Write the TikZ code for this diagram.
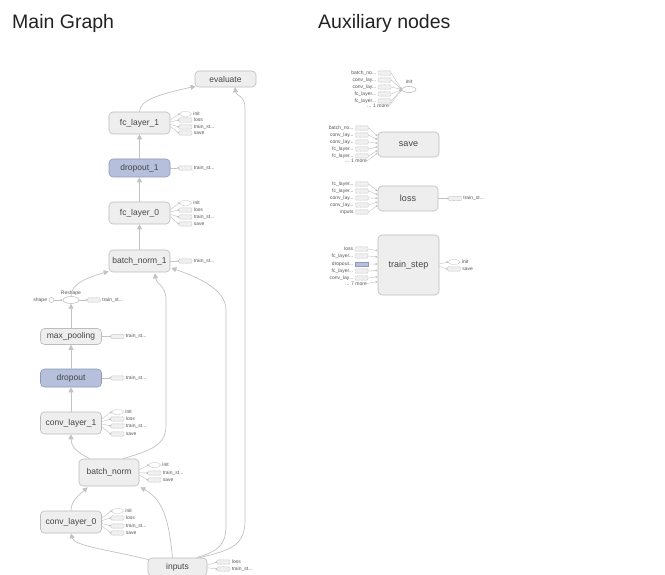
\documentclass[tikz,border=0pt]{standalone}
\usepackage{fontspec}
\setmainfont{Liberation Sans}
\usetikzlibrary{arrows.meta,shapes.geometric,calc}
\definecolor{nfill}{HTML}{EEEEEE}
\definecolor{ndraw}{HTML}{BDBDBD}
\definecolor{bfill}{HTML}{B6C0DC}
\definecolor{bdraw}{HTML}{8E99BC}
\definecolor{ntext}{HTML}{444444}
\definecolor{egray}{HTML}{C2C2C2}
\definecolor{sfill}{HTML}{F0F0F0}
\definecolor{sdraw}{HTML}{BBBBBB}
\definecolor{ltext}{HTML}{555555}
\definecolor{ttext}{HTML}{222222}
\newcommand\trunc{...}
\tikzset{
  mnode/.style={draw=ndraw, fill=nfill, rounded corners=4pt, inner sep=0pt,
    minimum width=61pt, minimum height=22pt, text=ntext, line width=0.6pt,
    font=\fontsize{8.5}{9}\selectfont},
  bnode/.style={mnode, fill=bfill, draw=bdraw},
  anode/.style={mnode, font=\fontsize{9}{10}\selectfont},
  conn/.style={draw=egray, line width=0.7pt, -{Triangle[length=5pt,width=5pt]}},
  sedge/.style={draw=egray, line width=0.4pt, -{Triangle[length=2pt,width=2pt]}},
  redge/.style={draw=egray, line width=0.4pt, -{Triangle[length=2pt,width=2pt,reversed]}},
  stubr/.style={draw=sdraw, fill=sfill, dash pattern=on 0.8pt off 0.5pt, line width=0.4pt,
    rounded corners=1pt, minimum width=13pt, minimum height=4.2pt, inner sep=0pt},
  stubi/.style={ellipse, draw=sdraw, fill=white, dash pattern=on 0.8pt off 0.5pt, line width=0.4pt,
    minimum width=12pt, minimum height=5pt, inner sep=0pt},
  stubb/.style={draw=bdraw, fill=bfill, line width=0.4pt, minimum width=13pt,
    minimum height=4.2pt, inner sep=0pt},
  slab/.style={font=\fontsize{5}{5}\selectfont, text=ltext, inner sep=0pt, anchor=west},
  title/.style={font=\fontsize{19.5}{22}\selectfont, text=ttext, inner sep=0pt, anchor=base west},
}
% stubs to the right of a node (outputs)
\newcommand\outstubs[3]{%
  \foreach \sY/\sT/\sK [count=\sN] in {#3}{%
    \node[stub\sK] (#1s\sN) at (#2,\sY) {};
    \node[slab] (#1l\sN) at ([xshift=1.5pt]#1s\sN.east) {\sT};
    \draw[redge] ($(#1.east)!0.35!(#1.east |- #1s\sN.west)$) -- (#1s\sN.west);
  }}
% stubs to the left of a node (inputs)
\newcommand\instubs[4]{%
  \foreach \sY/\sT/\sK [count=\sN] in {#3}{%
    \node[stub\sK] (#1s\sN) at (#2,\sY) {};
    \node[slab, anchor=east] (#1l\sN) at ([xshift=-1.5pt]#1s\sN.west) {\sT};
    \draw[sedge] (#1s\sN.east) -- ($(#1.west)!#4!(#1.west |- #1s\sN.east)$);
  }}
\begin{document}
\begin{tikzpicture}[x=1pt,y=-1pt]
\useasboundingbox (0,0) rectangle (665,575);
\fill[white] (0,0) rectangle (665,575);

% titles
\node[title] (t1) at (12,29) {Main Graph};
\node[title] (t2) at (318,29) {Auxiliary nodes};

% ---------- main graph nodes ----------
\node[mnode, minimum height=16pt] (evaluate) at (225.5,79) {evaluate};
\node[mnode] (fc1) at (139.5,123) {fc\_layer\_1};
\node[bnode, minimum height=18pt] (do1) at (139.5,168) {dropout\_1};
\node[mnode] (fc0) at (139.5,213) {fc\_layer\_0};
\node[mnode] (bn1) at (139.5,261) {batch\_norm\_1};
\node[ellipse, draw=sdraw, fill=white, line width=0.5pt, minimum width=16pt, minimum height=7pt, inner sep=0pt] (reshape) at (71,300) {};
\node[slab, anchor=south] (reshapelab) at ([yshift=1pt]reshape.north) {Reshape};
\node[circle, draw=sdraw, fill=white, line width=0.5pt, minimum size=5pt, inner sep=0pt] (shape) at (51.5,300) {};
\node[slab, anchor=east] (shapelab) at ([xshift=-1.5pt]shape.west) {shape};
\node[mnode, minimum height=16pt] (mp) at (71,336.5) {max\_pooling};
\node[bnode, minimum height=18pt] (do) at (71,378) {dropout};
\node[mnode] (cv1) at (71,423) {conv\_layer\_1};
\node[mnode, minimum width=60pt, minimum height=27pt] (bn) at (109,472.5) {batch\_norm};
\node[mnode] (cv0) at (71,522) {conv\_layer\_0};
\node[mnode, minimum width=59pt, minimum height=18pt] (inputs) at (177.5,567) {inputs};

% ---------- main graph edges ----------
\draw[conn] (fc1.north) .. controls (139.5,100) and (160,94) .. ($(evaluate.south west)+(1,-1)$);
\draw[conn] ($(inputs.north east)+(-8,0)$) .. controls (232,550) and (245,545) .. (245,520)
  -- (245,108) .. controls (245,95) and (236,96) .. ($(evaluate.south)+(9.5,0)$);
\draw[conn] ($(inputs.north east)+(-11,0)$) .. controls (218,551) and (226,546) .. (226,525)
  -- (226,310) .. controls (226,290) and (200,278) .. ($(bn1.east)+(1,7)$);
\draw[conn] (do1) -- (fc1);
\draw[conn] (fc0) -- (do1);
\draw[conn] (bn1) -- (fc0);
\draw[conn] (reshape.north) .. controls (71,284) and (86,278) .. ($(bn1.south west)+(0,-1)$);
\draw[conn] ($(bn.north)+(14,0)$) .. controls (152,450) and (166,445) .. (166,425)
  -- (166,300) .. controls (166,285) and (156,284) .. ($(bn1.south)+(15.5,1)$);
\draw[conn] (mp) -- (reshape);
\draw[conn] (do) -- (mp);
\draw[conn] (cv1) -- (do);
\draw[conn] ($(bn.north)+(-19,0)$) .. controls (76,452) and (71,446) .. (cv1.south);
\draw[conn] (cv0.north) .. controls (71,501) and (79,495) .. ($(bn.south west)+(9,1)$);
\draw[conn] ($(inputs.north west)+(1,2)$) .. controls (110,550) and (74,546) .. (cv0.south);
\draw[conn] ($(inputs.north)+(-5,0)$) .. controls (169,522) and (164,500) .. ($(bn.south east)+(1,1)$);
\draw[sedge] (shape) -- (reshape);

% ---------- stubs of main nodes ----------
\outstubs{fc1}{185.5}{114/init/i, 120/loss/r, 127/train\_st\trunc/r, 133/save/r}
\outstubs{do1}{185.5}{168/train\_st\trunc/r}
\outstubs{fc0}{185.5}{203/init/i, 210/loss/r, 217/train\_st\trunc/r, 224/save/r}
\outstubs{bn1}{185.5}{261/train\_st\trunc/r}
\outstubs{reshape}{94}{300/train\_st\trunc/r}
\outstubs{mp}{117.5}{336.5/train\_st\trunc/r}
\outstubs{do}{117.5}{378/train\_st\trunc/r}
\outstubs{cv1}{117.5}{412/init/i, 419/loss/r, 426/train\_st\trunc/r, 434/save/r}
\outstubs{bn}{154.5}{465/init/i, 473/train\_st\trunc/r, 480/save/r}
\outstubs{cv0}{117.5}{511/init/i, 518/loss/r, 526/train\_st\trunc/r, 533/save/r}
\outstubs{inputs}{223.5}{562/loss/r, 569/train\_st\trunc/r}

% ---------- auxiliary nodes ----------
\node[ellipse, draw=ndraw, fill=white, line width=0.6pt, minimum width=14pt, minimum height=6pt, inner sep=0pt] (init) at (409,89.5) {};
\node[slab, anchor=south] (initlab) at ([yshift=2pt]init.north) {init};
\instubs{init}{384.5}{73/batch\_no\trunc/r, 80/conv\_lay\trunc/r, 87/conv\_lay\trunc/r, 94/fc\_layer\trunc/r, 101/fc\_layer\trunc/r}{0}
\node[slab, anchor=east] (initmore) at (389,106) {... 1 more};
\draw[sedge] (initmore.east) -- (init.west);

\node[anode, minimum height=25pt] (save) at (408.5,144.5) {save};
\instubs{save}{362}{128/batch\_no\trunc/r, 135/conv\_lay\trunc/r, 142/conv\_lay\trunc/r, 149/fc\_layer\trunc/r, 156/fc\_layer\trunc/r}{0.5}
\node[slab, anchor=east] (savemore) at (367,161) {... 1 more};
\draw[sedge] (savemore.east) -- ($(save.west)!0.5!(save.west |- savemore.east)$);

\node[anode, minimum width=60pt, minimum height=25pt] (loss) at (408,198.5) {loss};
\instubs{loss}{362}{184/fc\_layer\trunc/r, 191/fc\_layer\trunc/r, 198/conv\_lay\trunc/r, 205/conv\_lay\trunc/r, 212/inputs/r}{0.5}
\outstubs{loss}{455}{198.5/train\_st\trunc/r}

\node[anode, minimum height=60pt] (train) at (408.5,265) {train\_step};
\instubs{train}{361.5}{249/loss/r, 256/fc\_layer\trunc/r, 264/dropout\trunc/b, 271/fc\_layer\trunc/r, 278/conv\_lay\trunc/r}{0.9}
\node[slab, anchor=east] (trainmore) at (367,283.5) {... 7 more};
\draw[sedge] (trainmore.east) -- ($(train.west)!0.9!(train.west |- trainmore.east)$);
\outstubs{train}{454}{262/init/i, 269/save/r}

\end{tikzpicture}
\end{document}
